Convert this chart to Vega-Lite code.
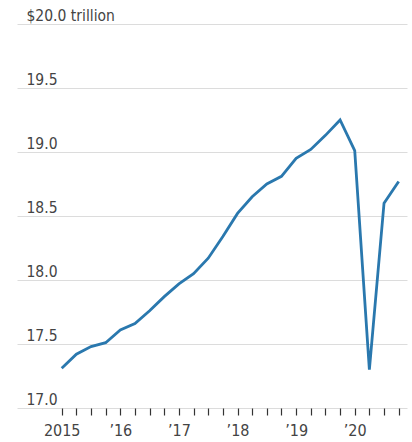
{
  "$schema": "https://vega.github.io/schema/vega-lite/v6.json",
  "autosize": {"type": "none"},
  "padding": {"left": 17, "top": 24, "right": 5, "bottom": 34},
  "width": 390,
  "height": 384,
  "background": "white",
  "config": {"view": {"stroke": null}, "font": "Liberation Sans Narrow, DejaVu Sans Condensed, sans-serif"},
  "data": {"values": [
    {"t": 2015.0, "gdp": 17.31},
    {"t": 2015.25, "gdp": 17.42},
    {"t": 2015.5, "gdp": 17.48},
    {"t": 2015.75, "gdp": 17.51},
    {"t": 2016.0, "gdp": 17.61},
    {"t": 2016.25, "gdp": 17.66},
    {"t": 2016.5, "gdp": 17.76},
    {"t": 2016.75, "gdp": 17.87},
    {"t": 2017.0, "gdp": 17.97},
    {"t": 2017.25, "gdp": 18.05},
    {"t": 2017.5, "gdp": 18.17},
    {"t": 2017.75, "gdp": 18.34},
    {"t": 2018.0, "gdp": 18.52},
    {"t": 2018.25, "gdp": 18.65},
    {"t": 2018.5, "gdp": 18.75},
    {"t": 2018.75, "gdp": 18.81},
    {"t": 2019.0, "gdp": 18.95},
    {"t": 2019.25, "gdp": 19.02},
    {"t": 2019.5, "gdp": 19.13},
    {"t": 2019.75, "gdp": 19.25},
    {"t": 2020.0, "gdp": 19.01},
    {"t": 2020.25, "gdp": 17.30},
    {"t": 2020.5, "gdp": 18.60},
    {"t": 2020.75, "gdp": 18.77}
  ]},
  "mark": {"type": "line", "color": "#2a78ae", "strokeWidth": 2.8, "strokeJoin": "miter", "clip": false},
  "encoding": {
    "x": {
      "field": "t", "type": "quantitative",
      "scale": {"domain": [2014.237, 2020.892], "nice": false, "zero": false},
      "axis": {
        "title": null, "grid": false, "domain": false,
        "values": [2015, 2015.25, 2015.5, 2015.75, 2016, 2016.25, 2016.5, 2016.75, 2017, 2017.25, 2017.5, 2017.75, 2018, 2018.25, 2018.5, 2018.75, 2019, 2019.25, 2019.5, 2019.75, 2020, 2020.25, 2020.5, 2020.75],
        "labelExpr": "datum.value % 1 != 0 ? '' : (datum.value == 2015 ? '2015' : '’' + substring(toString(datum.value), 2, 4))",
        "tickSize": 7, "tickColor": "#333", "tickWidth": 1.2,
        "labelFontSize": 16, "labelColor": "#444", "labelPadding": 7,
        "labelFlush": false, "labelOverlap": false
      }
    },
    "y": {
      "field": "gdp", "type": "quantitative",
      "scale": {"domain": [17, 20], "nice": false, "zero": false},
      "axis": {
        "title": null, "domain": false, "ticks": false, "tickSize": 0,
        "grid": true, "gridColor": "#dcdcdc", "gridWidth": 1,
        "values": [17, 17.5, 18, 18.5, 19, 19.5, 20],
        "labelExpr": "datum.value == 20 ? '$20.0 trillion' : format(datum.value, '.1f')",
        "labelAlign": "left", "labelBaseline": "alphabetic", "labelPadding": -9, "labelOffset": -4,
        "labelFontSize": 15.5, "labelColor": "#444",
        "labelFlush": false, "labelOverlap": false,
        "encode": {"labels": {"update": {"dx": {"signal": "datum.value == 20 ? -9 : 0"}}}}
      }
    }
  }
}
